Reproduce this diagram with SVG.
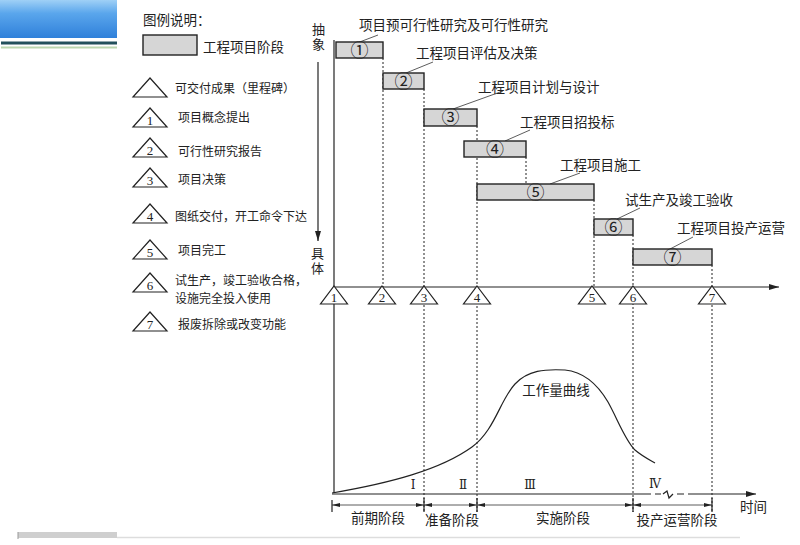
<svg xmlns="http://www.w3.org/2000/svg" width="800" height="545" viewBox="0 0 800 545">
<defs>
<linearGradient id="hdr" x1="0" y1="0" x2="0" y2="1">
<stop offset="0" stop-color="#9fd0f6"/>
<stop offset="0.35" stop-color="#5aa6ec"/>
<stop offset="1" stop-color="#2f80da"/>
</linearGradient>
<marker id="arr" viewBox="0 0 10 6" refX="10" refY="3" markerWidth="10" markerHeight="6" markerUnits="userSpaceOnUse" orient="auto">
<path d="M0,0 L10,3 L0,6 Z" fill="#222"/>
</marker>
<marker id="dim" viewBox="0 0 8 4" refX="8" refY="2" markerWidth="8" markerHeight="4" markerUnits="userSpaceOnUse" orient="auto-start-reverse">
<path d="M0,0 L8,2 L0,4 Z" fill="#222"/>
</marker>
</defs>
<style>
text{font-family:"Noto Sans CJK SC","Noto Sans",sans-serif;fill:#222}
.lbl{font-size:13.5px}
.ax{font-size:13px;writing-mode:vertical-rl;letter-spacing:2px}
.leg{font-size:12px}
.num{font-family:"Liberation Serif",serif;font-size:13px;text-anchor:middle}
.rom{font-family:"DejaVu Serif","Liberation Serif",serif;font-size:12px;text-anchor:middle}
.circ{font-size:18px;text-anchor:middle}
.bar{fill:#d6d6d6;stroke:#222;stroke-width:1.4}
.tri{fill:#fff;stroke:#222;stroke-width:1.2}
.ln{stroke:#222;stroke-width:1.2;fill:none}
.thin{stroke:#333;stroke-width:0.8;fill:none}
.dot{stroke:#222;stroke-width:1;stroke-dasharray:2 2;fill:none}
</style>
<rect width="800" height="545" fill="#fff"/>
<g id="header">
<rect x="0" y="0" width="117" height="38" fill="url(#hdr)"/>
<line x1="1" y1="43" x2="117" y2="43" stroke="#23505c" stroke-width="3"/>
<line x1="1" y1="47.5" x2="117" y2="47.5" stroke="#bcd7b0" stroke-width="2"/>
</g>
<g id="footer">
<rect x="18" y="532" width="99" height="6" fill="#cfcfcf"/>
<line x1="18" y1="532" x2="18" y2="539" stroke="#999" stroke-width="1"/>
<line x1="117" y1="537.5" x2="740" y2="537.5" stroke="#ddd" stroke-width="1.5"/>
</g>
<g id="legend">
<text x="143" y="25" class="lbl">图例说明：</text>
<rect x="143" y="35" width="54" height="20" class="bar"/>
<text x="203" y="52" class="lbl">工程项目阶段</text>
<g id="leg-tri"><path d="M150,78 L167,97 L133,97 Z" class="tri"/><text x="175" y="93" class="leg">可交付成果（里程碑）</text></g>
<g id="leg-1"><path d="M150,108 L167,127 L133,127 Z" class="tri"/><text x="150" y="125" class="num">1</text><text x="178" y="122" class="leg">项目概念提出</text></g>
<g id="leg-2"><path d="M150,138 L167,157 L133,157 Z" class="tri"/><text x="150" y="155" class="num">2</text><text x="178" y="156" class="leg">可行性研究报告</text></g>
<g id="leg-3"><path d="M150,168 L167,187 L133,187 Z" class="tri"/><text x="150" y="185" class="num">3</text><text x="178" y="184" class="leg">项目决策</text></g>
<g id="leg-4"><path d="M150,204 L167,223 L133,223 Z" class="tri"/><text x="150" y="221" class="num">4</text><text x="175" y="221" class="leg">图纸交付，开工命令下达</text></g>
<g id="leg-5"><path d="M150,240 L167,259 L133,259 Z" class="tri"/><text x="150" y="257" class="num">5</text><text x="178" y="255" class="leg">项目完工</text></g>
<g id="leg-6"><path d="M150,273 L167,292 L133,292 Z" class="tri"/><text x="150" y="290" class="num">6</text><text class="leg"><tspan x="175" y="285">试生产，竣工验收合格，</tspan><tspan x="175" y="303">设施完全投入使用</tspan></text></g>
<g id="leg-7"><path d="M150,312 L167,331 L133,331 Z" class="tri"/><text x="150" y="329" class="num">7</text><text x="178" y="329" class="leg">报废拆除或改变功能</text></g>
</g>
<g id="connectors">
<line x1="318" y1="62" x2="318" y2="241" class="ln" marker-end="url(#arr)"/>
<line x1="334" y1="40" x2="334" y2="493" class="ln"/>
<line x1="383" y1="58" x2="383" y2="287" class="dot"/>
<line x1="424" y1="89" x2="424" y2="512" class="dot"/>
<line x1="477" y1="126" x2="477" y2="512" class="dot"/>
<line x1="526" y1="157" x2="526" y2="183" class="dot"/>
<line x1="594" y1="200" x2="594" y2="287" class="dot"/>
<line x1="633" y1="235" x2="633" y2="512" class="dot"/>
<line x1="712" y1="265" x2="712" y2="512" class="dot"/>
<line x1="334" y1="287" x2="779" y2="287" class="ln" marker-end="url(#arr)"/>
<line x1="357" y1="43" x2="378" y2="35" class="thin"/>
<line x1="406" y1="73" x2="433" y2="62" class="thin"/>
<line x1="453" y1="109" x2="503" y2="91" class="thin"/>
<line x1="505" y1="141" x2="530" y2="130" class="thin"/>
<line x1="550" y1="184" x2="580" y2="173" class="thin"/>
<line x1="617" y1="219" x2="640" y2="208" class="thin"/>
<line x1="670" y1="249" x2="693" y2="237" class="thin"/>
<path d="M332,494 L651,494" class="ln"/>
<path d="M655,494 L661,494 M677,494 L684,494" class="ln"/>
<path d="M663,494 L667,491 L669,498 L673,494" class="ln"/>
<path d="M688,494 L756,494" class="ln" marker-end="url(#arr)"/>
<path d="M332,493 C390,483 440,470 472,447 C495,430 500,400 515,384 C528,370 545,369 565,370 C585,372 598,385 608,402 C618,420 625,440 635,450 C642,456 648,459 655,463" class="ln" stroke-width="1.5"/>
<line x1="332" y1="500" x2="332" y2="512" class="ln"/>
<line x1="424" y1="498" x2="424" y2="512" class="ln"/>
<line x1="477" y1="498" x2="477" y2="512" class="ln"/>
<line x1="633" y1="498" x2="633" y2="512" class="ln"/>
<line x1="712" y1="498" x2="712" y2="512" class="ln"/>
<line x1="332" y1="505" x2="424" y2="505" class="thin" marker-start="url(#dim)" marker-end="url(#dim)"/>
<line x1="424" y1="505" x2="477" y2="505" class="thin" marker-start="url(#dim)" marker-end="url(#dim)"/>
<line x1="477" y1="505" x2="633" y2="505" class="thin" marker-start="url(#dim)" marker-end="url(#dim)"/>
<line x1="633" y1="505" x2="712" y2="505" class="thin" marker-start="url(#dim)" marker-end="url(#dim)"/>
</g>
<g id="axis-labels">
<text x="318.5" y="23" class="ax">抽象</text>
<text x="317.5" y="247" class="ax">具体</text>
<text x="740" y="512" class="lbl">时间</text>
<text x="556" y="395" class="lbl" text-anchor="middle">工作量曲线</text>
<text x="413" y="489" class="rom">Ⅰ</text>
<text x="463" y="489" class="rom">Ⅱ</text>
<text x="530" y="489" class="rom">Ⅲ</text>
<text x="655" y="488" class="rom">Ⅳ</text>
<text x="378" y="523" class="lbl" text-anchor="middle">前期阶段</text>
<text x="452" y="525" class="lbl" text-anchor="middle">准备阶段</text>
<text x="563" y="523" class="lbl" text-anchor="middle">实施阶段</text>
<text x="677" y="525" class="lbl" text-anchor="middle">投产运营阶段</text>
</g>
<g id="stage-1"><rect x="336" y="42" width="47" height="16" class="bar"/><text x="359.5" y="56.5" class="circ">①</text><text x="359" y="30" class="lbl">项目预可行性研究及可行性研究</text></g>
<g id="stage-2"><rect x="383" y="73" width="41" height="16" class="bar"/><text x="403.5" y="87.5" class="circ">②</text><text x="416" y="58" class="lbl">工程项目评估及决策</text></g>
<g id="stage-3"><rect x="424" y="109" width="53" height="17" class="bar"/><text x="450.5" y="124" class="circ">③</text><text x="478" y="92" class="lbl">工程项目计划与设计</text></g>
<g id="stage-4"><rect x="464" y="141" width="62" height="16" class="bar"/><text x="495" y="155.5" class="circ">④</text><text x="520" y="127" class="lbl">工程项目招投标</text></g>
<g id="stage-5"><rect x="477" y="184" width="117" height="16" class="bar"/><text x="535.5" y="198.5" class="circ">⑤</text><text x="560" y="170" class="lbl">工程项目施工</text></g>
<g id="stage-6"><rect x="594" y="219" width="39" height="16" class="bar"/><text x="613.5" y="233.5" class="circ">⑥</text><text x="625" y="205" class="lbl">试生产及竣工验收</text></g>
<g id="stage-7"><rect x="633" y="249" width="79" height="16" class="bar"/><text x="672.5" y="263.5" class="circ">⑦</text><text x="677" y="233" class="lbl">工程项目投产运营</text></g>
<g id="milestone-1"><path d="M334,286 L347.5,304 L320.5,304 Z" class="tri"/><text x="334" y="302" class="num">1</text></g>
<g id="milestone-2"><path d="M382,286 L395.5,304 L368.5,304 Z" class="tri"/><text x="382" y="302" class="num">2</text></g>
<g id="milestone-3"><path d="M424,286 L437.5,304 L410.5,304 Z" class="tri"/><text x="424" y="302" class="num">3</text></g>
<g id="milestone-4"><path d="M477,286 L490.5,304 L463.5,304 Z" class="tri"/><text x="477" y="302" class="num">4</text></g>
<g id="milestone-5"><path d="M592,286 L605.5,304 L578.5,304 Z" class="tri"/><text x="592" y="302" class="num">5</text></g>
<g id="milestone-6"><path d="M633,286 L646.5,304 L619.5,304 Z" class="tri"/><text x="633" y="302" class="num">6</text></g>
<g id="milestone-7"><path d="M712,286 L725.5,304 L698.5,304 Z" class="tri"/><text x="712" y="302" class="num">7</text></g>
</svg>
